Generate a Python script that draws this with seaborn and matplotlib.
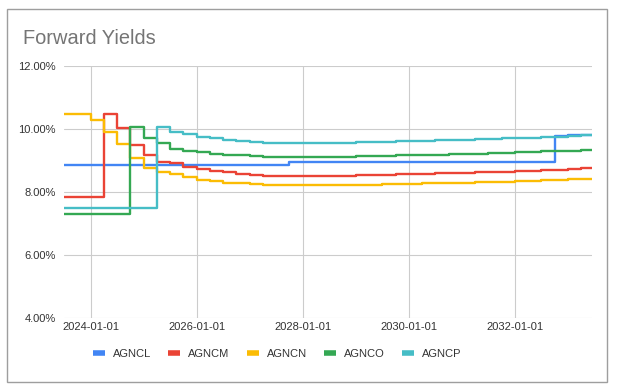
import pandas as pd
import matplotlib
matplotlib.use('Agg')
import matplotlib.pyplot as plt
from matplotlib.patches import Rectangle
from matplotlib.ticker import FuncFormatter
import matplotlib.dates as mdates
import seaborn as sns

sns.set_style('white')
plt.rcParams['font.family'] = ['Liberation Sans', 'DejaVu Sans']

# quarterly points, 2023-07-01 .. 2033-07-01
dates = pd.date_range('2023-07-01', '2033-07-01', freq='QS')

agncl = [8.87, 8.87, 8.87, 8.87, 8.87, 8.87, 8.87, 8.87, 8.87, 8.87,
         8.87, 8.87, 8.87, 8.87, 8.87, 8.87, 8.87,
         8.95, 8.95, 8.95, 8.95, 8.95, 8.95, 8.95, 8.95, 8.95, 8.95,
         8.95, 8.95, 8.95, 8.95, 8.95, 8.95, 8.95, 8.95, 8.95, 8.95,
         9.79, 9.80, 9.81, 9.81]
agncm = [7.85, 7.85, 7.85, 10.47, 10.02, 9.50, 9.18, 8.96, 8.91, 8.80,
         8.73, 8.67, 8.62, 8.57, 8.53, 8.51, 8.50, 8.50,
         8.50, 8.50, 8.51, 8.52, 8.53, 8.54, 8.55, 8.56, 8.57, 8.58,
         8.59, 8.60, 8.61, 8.62, 8.63, 8.65, 8.67, 8.68, 8.70, 8.71,
         8.73, 8.75, 8.77]
agncn = [10.48, 10.47, 10.29, 9.92, 9.52, 9.07, 8.77, 8.65, 8.57, 8.49,
         8.38, 8.34, 8.30, 8.27, 8.24, 8.22, 8.21, 8.21,
         8.21, 8.21, 8.21, 8.22, 8.22, 8.23, 8.24, 8.25, 8.26, 8.27,
         8.28, 8.29, 8.30, 8.31, 8.32, 8.33, 8.34, 8.35, 8.37, 8.38,
         8.40, 8.41, 8.43]
agnco = [7.29, 7.29, 7.29, 7.29, 7.29, 10.07, 9.72, 9.56, 9.37, 9.30,
         9.26, 9.22, 9.19, 9.16, 9.13, 9.11, 9.10, 9.10,
         9.10, 9.10, 9.11, 9.12, 9.13, 9.14, 9.15, 9.16, 9.17, 9.18,
         9.19, 9.20, 9.21, 9.22, 9.23, 9.25, 9.27, 9.28, 9.29, 9.30,
         9.31, 9.33, 9.34]
agncp = [7.48, 7.48, 7.48, 7.48, 7.48, 7.48, 7.48, 10.06, 9.92, 9.85,
         9.74, 9.70, 9.66, 9.62, 9.59, 9.56, 9.55, 9.55,
         9.55, 9.55, 9.56, 9.57, 9.58, 9.59, 9.60, 9.61, 9.62, 9.63,
         9.64, 9.65, 9.66, 9.67, 9.68, 9.70, 9.72, 9.73, 9.75, 9.76,
         9.78, 9.80, 9.82]

names = ['AGNCL', 'AGNCM', 'AGNCN', 'AGNCO', 'AGNCP']
colors = ['#4285F4', '#EA4335', '#FBBC04', '#34A853', '#46BDC6']
y_ticks = [4, 6, 8, 10, 12]
x_ticks = ['2024-01-01', '2026-01-01', '2028-01-01', '2030-01-01', '2032-01-01']

frames = []
for name, vals in zip(names, [agncl, agncm, agncn, agnco, agncp]):
    frames.append(pd.DataFrame({'date': dates, 'yield': vals, 'series': name}))
df = pd.concat(frames, ignore_index=True)

W, H = 617, 388
fig = plt.figure(figsize=(W / 100, H / 100), dpi=100)
ax = fig.add_axes([64 / W, 1 - 318 / H, (592 - 64) / W, (318 - 66) / H])

sns.lineplot(data=df, x='date', y='yield', hue='series', hue_order=names,
             palette=dict(zip(names, colors)), linewidth=1.7,
             drawstyle='steps-post', ax=ax)

ax.set_xlim(pd.Timestamp('2023-07-01'), pd.Timestamp('2033-06-15'))
ax.set_ylim(4, 12)
ax.set_yticks(y_ticks)
ax.yaxis.set_major_formatter(FuncFormatter(lambda v, p: f'{v:.2f}%'))
ax.set_xticks([pd.Timestamp(d) for d in x_ticks])
ax.xaxis.set_major_formatter(mdates.DateFormatter('%Y-%m-%d'))
ax.set_xlabel('')
ax.set_ylabel('')
ax.grid(True, color='#cccccc', linewidth=0.8)
ax.set_axisbelow(True)
for s in ax.spines.values():
    s.set_visible(False)
ax.tick_params(axis='both', length=0, labelsize=8, labelcolor='#333333')
ax.tick_params(axis='y', pad=6)
ax.tick_params(axis='x', pad=3)

handles, labels = ax.get_legend_handles_labels()
ax.get_legend().remove()
leg = fig.legend(handles, labels, loc='center', ncol=5, frameon=False,
                 bbox_to_anchor=(277 / W, 1 - 354 / H), fontsize=8,
                 handlelength=1.1, handletextpad=0.7, columnspacing=1.55,
                 labelcolor='#333333')
for line in leg.get_lines():
    line.set_linewidth(4)
    line.set_solid_capstyle('butt')

fig.text(23 / W, 1 - 38 / H, 'Forward Yields', fontsize=14.4, color='#757575',
         va='center', ha='left')

fig.patches.append(Rectangle((7 / W, 1 - 382 / H), 600 / W, 373 / H,
                             transform=fig.transFigure, fill=False,
                             edgecolor='#9e9e9e', linewidth=1))

fig.savefig('out.png', dpi=100)
